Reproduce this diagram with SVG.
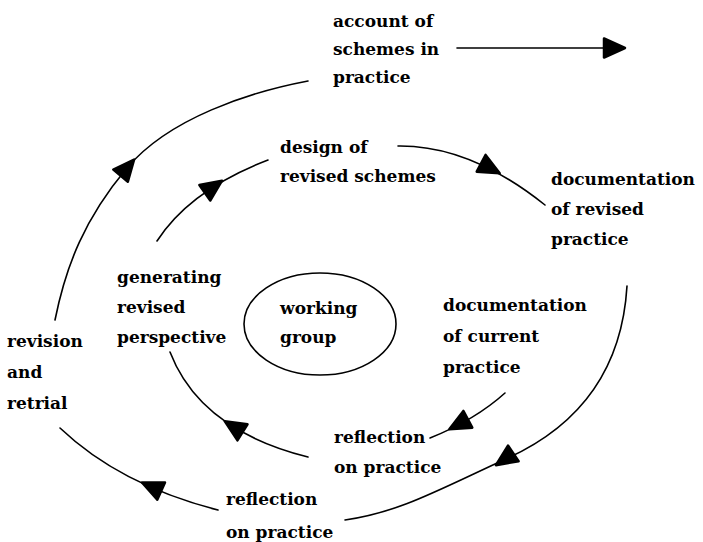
<svg xmlns="http://www.w3.org/2000/svg" xmlns:xlink="http://www.w3.org/1999/xlink" width="703" height="542" viewBox="0 0 703 542">
  <style>
    .lbl { font-family: "DejaVu Serif", "Liberation Serif", serif; font-weight: bold; font-size: 17px; fill: #000; }
    .wire { fill: none; stroke: #000; stroke-width: 1.6; stroke-linecap: round; }
    .head { fill: #000; stroke: #000; stroke-width: 2.5; stroke-linejoin: round; }
  </style>
  <defs>
    <!-- filled arrowhead, tip at +12 on the x axis -->
    <path id="ah" d="M-10,-9.5 L11,0 L-10,9.5 Z"/>
  </defs>
  <rect width="703" height="542" fill="#fff"/>

  <g id="connectors">
    <!-- outer spiral -->
    <path class="wire" d="M55,320 C66,265 85,218 127,168 S250,92 308,81"/>
    <path class="wire" d="M627,286 C622,370 580,425 508,458 S400,512 345,520"/>
    <path class="wire" d="M218,510 Q120,485 60,428"/>
    <!-- inner spiral -->
    <path class="wire" d="M398,146 Q470,145 545,205"/>
    <path class="wire" d="M157,241 Q190,190 268,160"/>
    <path class="wire" d="M308,457 Q200,430 170,352"/>
    <path class="wire" d="M505,393 Q475,420 430,438"/>
    <!-- outgoing arrow -->
    <path class="wire" d="M457,48 L610,48"/>

    <use class="head" xlink:href="#ah" transform="translate(614,48)"/>
    <use class="head" xlink:href="#ah" transform="translate(127,168) rotate(-50)"/>
    <use class="head" xlink:href="#ah" transform="translate(505,459) rotate(146)"/>
    <use class="head" xlink:href="#ah" transform="translate(152,487) rotate(-156)"/>
    <use class="head" xlink:href="#ah" transform="translate(490,168) rotate(28)"/>
    <use class="head" xlink:href="#ah" transform="translate(213,187) rotate(-35)"/>
    <use class="head" xlink:href="#ah" transform="translate(234,427) rotate(-148)"/>
    <use class="head" xlink:href="#ah" transform="translate(459,424) rotate(152)"/>
  </g>

  <g id="account">
    <text class="lbl" x="333" y="27">account of</text>
    <text class="lbl" x="333" y="55">schemes in</text>
    <text class="lbl" x="333" y="83">practice</text>
  </g>
  <g id="design">
    <text class="lbl" x="280" y="153">design of</text>
    <text class="lbl" x="280" y="182">revised schemes</text>
  </g>
  <g id="doc-revised">
    <text class="lbl" x="551" y="185">documentation</text>
    <text class="lbl" x="551" y="215">of revised</text>
    <text class="lbl" x="551" y="245">practice</text>
  </g>
  <g id="generating">
    <text class="lbl" x="117" y="283">generating</text>
    <text class="lbl" x="117" y="313">revised</text>
    <text class="lbl" x="117" y="343">perspective</text>
  </g>
  <g id="working-group">
    <ellipse cx="320" cy="324" rx="76" ry="51" fill="none" stroke="#000" stroke-width="1.6"/>
    <text class="lbl" x="280" y="314">working</text>
    <text class="lbl" x="280" y="343">group</text>
  </g>
  <g id="doc-current">
    <text class="lbl" x="443" y="311">documentation</text>
    <text class="lbl" x="443" y="342">of current</text>
    <text class="lbl" x="443" y="373">practice</text>
  </g>
  <g id="revision">
    <text class="lbl" x="7" y="347">revision</text>
    <text class="lbl" x="7" y="378">and</text>
    <text class="lbl" x="7" y="409">retrial</text>
  </g>
  <g id="reflection-inner">
    <text class="lbl" x="334" y="443">reflection</text>
    <text class="lbl" x="334" y="473">on practice</text>
  </g>
  <g id="reflection-outer">
    <text class="lbl" x="226" y="505">reflection</text>
    <text class="lbl" x="226" y="538">on practice</text>
  </g>
</svg>
